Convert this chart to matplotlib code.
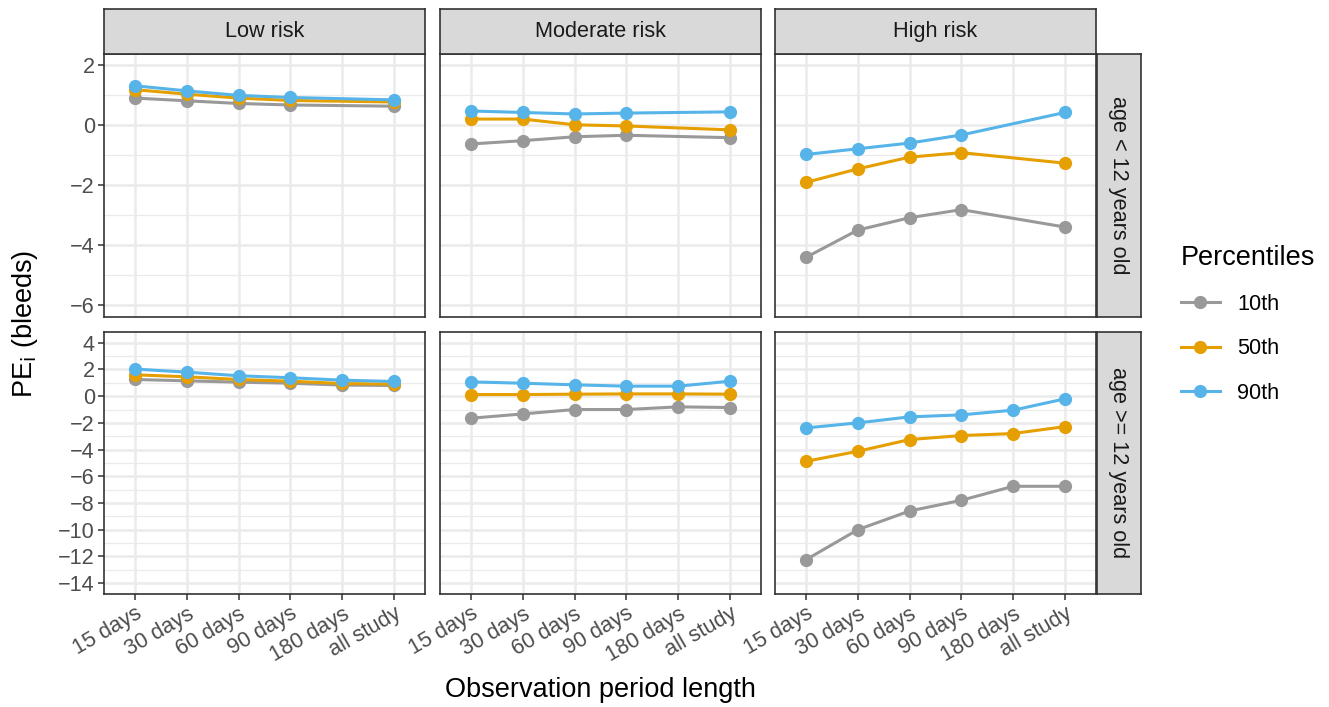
import numpy as np
import matplotlib.pyplot as plt
from matplotlib.lines import Line2D
from matplotlib.ticker import MultipleLocator

plt.rcParams['font.family'] = ['Liberation Sans', 'DejaVu Sans']

periods = ["15 days", "30 days", "60 days", "90 days", "180 days", "all study"]
risks = ["Low risk", "Moderate risk", "High risk"]
ages = ["age < 12 years old", "age >= 12 years old"]
percentiles = ["10th", "50th", "90th"]
colors = ["#999999", "#E69F00", "#56B4E9"]

nan = np.nan
# age < 12 (no 180 days observation)
young_low = {"10th": [0.90, 0.81, 0.72, 0.67, nan, 0.63],
             "50th": [1.18, 1.03, 0.90, 0.82, nan, 0.77],
             "90th": [1.31, 1.14, 0.99, 0.92, nan, 0.84]}
young_mod = {"10th": [-0.63, -0.52, -0.39, -0.34, nan, -0.42],
             "50th": [0.20, 0.20, 0.01, -0.03, nan, -0.16],
             "90th": [0.47, 0.42, 0.37, 0.40, nan, 0.44]}
young_high = {"10th": [-4.41, -3.50, -3.09, -2.82, nan, -3.40],
              "50th": [-1.91, -1.46, -1.07, -0.92, nan, -1.27],
              "90th": [-0.98, -0.79, -0.60, -0.33, nan, 0.42]}
# age >= 12
old_low = {"10th": [1.25, 1.15, 1.05, 0.97, 0.83, 0.80],
           "50th": [1.60, 1.45, 1.25, 1.12, 0.95, 0.90],
           "90th": [2.03, 1.80, 1.53, 1.38, 1.20, 1.10]}
old_mod = {"10th": [-1.65, -1.33, -1.00, -1.00, -0.80, -0.85],
           "50th": [0.12, 0.12, 0.15, 0.17, 0.17, 0.15],
           "90th": [1.07, 0.97, 0.85, 0.75, 0.75, 1.12]}
old_high = {"10th": [-12.25, -10.00, -8.60, -7.80, -6.75, -6.75],
            "50th": [-4.88, -4.13, -3.25, -2.95, -2.80, -2.28],
            "90th": [-2.38, -2.00, -1.55, -1.40, -1.05, -0.20]}

panels = [[young_low, young_mod, young_high],
          [old_low, old_mod, old_high]]

W, H = 1329, 707
fig = plt.figure(figsize=(W / 100, H / 100), dpi=100)

col_left = [104, 440, 775]
pw = 321
row_top = [54, 331.7]
ph = 262.7
ylims = [(-6.39, 2.37), (-14.85, 4.83)]
ymajor = [2, 2]

border = "#333333"
grid = "#EBEBEB"
strip_bg = "#D9D9D9"
tick_col = "#4D4D4D"


def box(l, t, w, h):
    return [l / W, 1 - (t + h) / H, w / W, h / H]


x = np.arange(len(periods))
for r in range(2):
    for c in range(3):
        ax = fig.add_axes(box(col_left[c], row_top[r], pw, ph))
        ax.set_xlim(-0.6, len(periods) - 0.4)
        ax.set_ylim(*ylims[r])
        ax.yaxis.set_major_locator(MultipleLocator(ymajor[r]))
        ax.yaxis.set_minor_locator(MultipleLocator(ymajor[r] / 2))
        ax.set_xticks(x)
        ax.grid(True, which="major", color=grid, lw=1.8, zorder=0)
        ax.grid(True, which="minor", axis="y", color=grid, lw=0.9, zorder=0)
        ax.set_axisbelow(True)
        for s in ax.spines.values():
            s.set_color(border)
            s.set_linewidth(1.2)
        ax.tick_params(which="minor", length=0)
        ax.tick_params(which="major", color=border, width=1.1, length=4.5,
                       labelsize=15.6, labelcolor=tick_col, pad=2)
        if c > 0:
            ax.tick_params(axis="y", length=0, labelleft=False)
        if r == 0:
            ax.tick_params(axis="x", length=0, labelbottom=False)
        else:
            ax.set_xticklabels(periods, rotation=30, ha="right",
                               rotation_mode="anchor")
        data = panels[r][c]
        for p, col in zip(percentiles, colors):
            vals = np.array(data[p], dtype=float)
            ok = ~np.isnan(vals)
            ax.plot(x[ok], vals[ok], color=col, lw=2.2, marker="o",
                    markersize=8.5, zorder=3)

        if r == 0:
            sax = fig.add_axes(box(col_left[c], 9, pw, 45))
            sax.set_facecolor(strip_bg)
            sax.set_xticks([])
            sax.set_yticks([])
            for s in sax.spines.values():
                s.set_color(border)
                s.set_linewidth(1.2)
            sax.text(0.5, 0.5, risks[c], ha="center", va="center",
                     fontsize=15.6, color="#1A1A1A", transform=sax.transAxes)
        if c == 2:
            sax = fig.add_axes(box(1096.7, row_top[r], 44.3, ph))
            sax.set_facecolor(strip_bg)
            sax.set_xticks([])
            sax.set_yticks([])
            for s in sax.spines.values():
                s.set_color(border)
                s.set_linewidth(1.2)
            sax.text(0.5, 0.5, ages[r], ha="center", va="center",
                     rotation=-90, fontsize=15.6, color="#1A1A1A",
                     transform=sax.transAxes)

fig.text(600 / W, 1 - 690 / H, "Observation period length", ha="center",
         va="center", fontsize=19.5)
fig.text(25 / W, 1 - 324 / H, r"PE$_\mathrm{i}$ (bleeds)", ha="center",
         va="center", rotation=90, fontsize=19.5)

handles = [Line2D([0], [0], color=col, lw=2.2, marker="o", markersize=8.5)
           for col in colors]
fig.legend(handles, percentiles, title="Percentiles", loc="upper left",
           bbox_to_anchor=(1172 / W, 1 - 236 / H), frameon=False,
           fontsize=15.6, title_fontsize=19.5, handlelength=1.8,
           labelspacing=1.08, alignment="left", borderaxespad=0)

fig.savefig("out.png", dpi=100)
